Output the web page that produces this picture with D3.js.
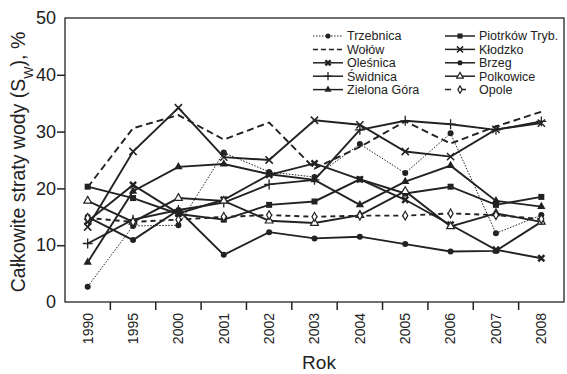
<!DOCTYPE html>
<html>
<head>
<meta charset="utf-8">
<script src="https://cdn.jsdelivr.net/npm/d3@7"></script>
<style>
  body { margin: 0; background: #fff; }
  text { font-family: "Liberation Sans", Arial, sans-serif; fill: #222; }
</style>
</head>
<body>
<div id="chart"></div>
<script>
// data (%, Sw)
const years = ["1990", "1995", "2000", "2001", "2002", "2003", "2004", "2005", "2006", "2007", "2008"];
const trzebnica  = [2.7, 13.4, 13.5, 26.3, 22.9, 22.0, 27.8, 22.7, 29.7, 12.1, 15.3];
const wolow      = [20.2, 30.6, 32.9, 28.6, 31.6, 23.5, 27.3, 31.8, 27.9, 30.9, 33.5];
const olesnica   = [14.2, 20.6, 15.6, 18.0, 22.4, 24.4, 21.6, 18.0, 13.6, 9.2, 7.7];
const swidnica   = [10.3, 14.5, 16.2, 17.5, 20.7, 21.5, 30.3, 31.9, 31.3, 30.3, 31.8];
const zielona    = [7.0, 19.5, 23.8, 24.3, 22.5, 21.5, 17.1, 21.2, 24.0, 17.8, 16.8];
const piotrkow   = [20.3, 18.3, 15.5, 14.5, 17.1, 17.7, 21.6, 19.1, 20.3, 17.1, 18.5];
const klodzko    = [13.2, 26.5, 34.2, 25.5, 25.0, 32.0, 31.2, 26.5, 25.6, 30.4, 31.5];
const brzeg      = [15.0, 10.9, 16.2, 8.3, 12.3, 11.2, 11.5, 10.2, 8.9, 9.0, 14.1];
const polkowice  = [17.8, 14.1, 18.3, 17.8, 14.3, 13.9, 15.3, 19.5, 13.3, 15.6, 14.1];
const opole      = [14.8, 14.1, 14.5, 15.0, 15.3, 15.0, 15.2, 15.2, 15.6, 15.3, 14.6];
const yTicks = [0, 10, 20, 30, 40, 50];

// series table: name, values, line style, marker
const series = [
  { name: "Trzebnica",     values: trzebnica, dash: "1.5,1.5", width: 1,   marker: "circle" },
  { name: "Wołów",         values: wolow,     dash: "7,4",     width: 1.9, marker: null },
  { name: "Oleśnica",      values: olesnica,  dash: null,      width: 1.9, marker: "xbold" },
  { name: "Świdnica",      values: swidnica,  dash: null,      width: 1.9, marker: "plus" },
  { name: "Zielona Góra",  values: zielona,   dash: null,      width: 1.9, marker: "triangle" },
  { name: "Piotrków Tryb.",values: piotrkow,  dash: null,      width: 1.9, marker: "square" },
  { name: "Kłodzko",       values: klodzko,   dash: null,      width: 1.9, marker: "x" },
  { name: "Brzeg",         values: brzeg,     dash: null,      width: 1.9, marker: "circle" },
  { name: "Polkowice",     values: polkowice, dash: null,      width: 1.9, marker: "triangleOpen" },
  { name: "Opole",         values: opole,     dash: "5,4",     width: 1.9, marker: "diamondOpen" }
];

const w = 567, h = 374;
const padLeft = 65, padRight = 3, padTop = 18, padBot = 72;

const svg = d3.select("#chart").append("svg")
  .attr("width", w)
  .attr("height", h);

const xScale = d3.scaleBand()
  .domain(years)
  .range([padLeft, w - padRight]);
const yScale = d3.scaleLinear()
  .domain([0, 50])
  .range([h - padBot, padTop]);
const xc = d => xScale(d) + xScale.bandwidth() / 2;

// frame
svg.append("rect")
  .attr("x", padLeft).attr("y", padTop)
  .attr("width", w - padRight - padLeft)
  .attr("height", h - padBot - padTop)
  .attr("fill", "none").attr("stroke", "#222").attr("stroke-width", 1.3);

// y axis
const yAxis = d3.axisLeft(yScale).tickValues(yTicks).tickSize(8).tickPadding(3);
const gy = svg.append("g").attr("transform", `translate(${padLeft},0)`).call(yAxis);
gy.select(".domain").remove();
gy.selectAll(".tick line").attr("stroke", "#222").attr("stroke-width", 1.5)
  .attr("display", d => (d === 0 || d === 50) ? "none" : null);
gy.selectAll(".tick text").attr("x", -9).style("font-size", "18px").attr("fill", "#222");

// x axis: ticks between categories
svg.append("g").selectAll("line")
  .data(years.slice(1))
  .enter().append("line")
  .attr("x1", d => xScale(d)).attr("x2", d => xScale(d))
  .attr("y1", h - padBot).attr("y2", h - padBot + 8)
  .attr("stroke", "#222").attr("stroke-width", 1.5);
svg.append("g").selectAll("text")
  .data(years)
  .enter().append("text")
  .text(d => d)
  .attr("text-anchor", "end")
  .attr("transform", d => `translate(${xc(d)},${h - padBot + 11}) rotate(-90)`)
  .attr("dy", "0.35em")
  .style("font-size", "14px");

svg.append("text")
  .text("Rok")
  .attr("text-anchor", "middle")
  .attr("x", 319).attr("y", 369)
  .style("font-size", "19px");

const yLab = svg.append("text")
  .attr("text-anchor", "middle")
  .attr("transform", `translate(25,${(padTop + h - padBot) / 2 + 2}) rotate(-90)`)
  .style("font-size", "19.5px");
yLab.append("tspan").text("Całkowite straty wody (S");
yLab.append("tspan").text("W").attr("baseline-shift", "sub").style("font-size", "13px");
yLab.append("tspan").text("), %");

// markers
function drawMarker(g, type, x, y, k = 1) {
  const sym = (t, s) => d3.symbol().type(t).size(s * k * k)();
  const tr = `translate(${x},${y})`;
  if (type === "circle") {
    g.append("circle").attr("cx", x).attr("cy", y).attr("r", 3 * k).attr("fill", "#222");
  } else if (type === "square") {
    g.append("path").attr("d", sym(d3.symbolSquare, 36)).attr("transform", tr).attr("fill", "#222");
  } else if (type === "triangle") {
    g.append("path").attr("d", sym(d3.symbolTriangle, 30)).attr("transform", tr).attr("fill", "#222");
  } else if (type === "triangleOpen") {
    g.append("path").attr("d", sym(d3.symbolTriangle, 26)).attr("transform", tr)
      .attr("fill", "#fff").attr("stroke", "#222").attr("stroke-width", 1.2);
  } else if (type === "diamondOpen") {
    g.append("path").attr("d", sym(d3.symbolDiamond, 22)).attr("transform", tr)
      .attr("fill", "#fff").attr("stroke", "#222").attr("stroke-width", 1.2);
  } else if (type === "plus") {
    g.append("path").attr("d", sym(d3.symbolPlus, 34)).attr("transform", tr)
      .attr("fill", "none").attr("stroke", "#222").attr("stroke-width", 1.3);
  } else if (type === "x") {
    g.append("path").attr("d", sym(d3.symbolTimes || d3.symbolX, 36)).attr("transform", tr)
      .attr("fill", "none").attr("stroke", "#222").attr("stroke-width", 1.5);
  } else if (type === "xbold") {
    g.append("path").attr("d", sym(d3.symbolTimes || d3.symbolX, 26)).attr("transform", tr)
      .attr("fill", "none").attr("stroke", "#222").attr("stroke-width", 2.4);
  }
}

// lines
const line = d3.line()
  .x((d, i) => xc(years[i]))
  .y(d => yScale(d));
const plot = svg.append("g");
series.forEach(s => {
  plot.append("path")
    .datum(s.values)
    .attr("d", line)
    .attr("fill", "none")
    .attr("stroke", "#222")
    .attr("stroke-width", s.width)
    .attr("stroke-dasharray", s.dash);
});
series.forEach(s => {
  if (!s.marker) return;
  s.values.forEach((v, i) => drawMarker(plot, s.marker, xc(years[i]), yScale(v)));
});

// legend
const legend = svg.append("g");
series.forEach((s, i) => {
  const col = Math.floor(i / 5), row = i % 5;
  const lx = col === 0 ? 313 : 445;
  const ly = 36 + row * 13.4;
  legend.append("line")
    .attr("x1", lx).attr("x2", lx + 30).attr("y1", ly).attr("y2", ly)
    .attr("stroke", "#222").attr("stroke-width", s.dash === "1.5,1.5" ? 1 : 1.5)
    .attr("stroke-dasharray", s.dash === "7,4" ? "5,3" : (s.dash === "5,4" ? "6,9" : s.dash));
  if (s.marker) drawMarker(legend, s.marker, lx + 15, ly, 0.85);
  legend.append("text")
    .text(s.name)
    .attr("x", lx + 34).attr("y", ly)
    .attr("dy", "0.35em")
    .style("font-size", "12.5px");
});
</script>
</body>
</html>
